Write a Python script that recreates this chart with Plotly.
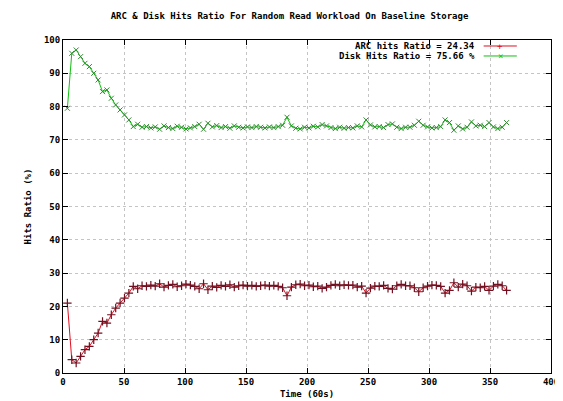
import plotly.graph_objects as go

time_points = [round(3.6 * i, 1) for i in range(1, 102)]

arc_hits = [21, 4, 3, 5, 7, 8, 10, 12, 15.5, 15,
            17.5, 19.5, 21, 22.5, 24, 26, 25.3, 26.2, 26, 26.4,
            26.1, 26.8, 25.8, 26.3, 26.6, 25.9, 26.2, 26.7, 26.4, 26.0,
            25.3, 26.8, 25.0, 26.1, 25.7, 26.3, 26.0, 26.5, 25.8, 26.2,
            26.4, 26.1, 26.3, 26.0, 26.2, 26.4, 26.1, 26.3, 26.0, 25.6,
            23.2, 25.8, 26.5, 26.7, 26.2, 26.4, 25.9, 26.1, 25.4, 25.8,
            26.3, 26.6, 26.2, 26.5, 26.3, 26.4, 25.8, 26.1, 24.0, 25.5,
            26.1, 26.0, 26.3, 25.4, 25.2, 26.2, 26.6, 26.2, 26.2, 25.6,
            24.4, 25.6, 26.1, 26.4, 26.3, 26.0, 24.0, 24.8, 27.1, 25.8,
            26.7, 26.2, 24.6, 25.8, 25.6, 26.0, 24.8, 26.1, 26.6, 26.2,
            24.8]

disk_hits = [79.5, 96, 97, 95, 93, 92, 90, 88, 84.5, 85,
             82.5, 80.5, 79, 77.5, 76, 74, 74.7, 73.8, 74, 73.6,
             73.9, 73.2, 74.2, 73.7, 73.4, 74.1, 73.8, 73.3, 73.6, 74.0,
             74.7, 73.2, 75.0, 73.9, 74.3, 73.7, 74.0, 73.5, 74.2, 73.8,
             73.6, 73.9, 73.7, 74.0, 73.8, 73.6, 73.9, 73.7, 74.0, 74.4,
             76.8, 74.2, 73.5, 73.3, 73.8, 73.6, 74.1, 73.9, 74.6, 74.2,
             73.7, 73.4, 73.8, 73.5, 73.7, 73.6, 74.2, 73.9, 76.0, 74.5,
             73.9, 74.0, 73.7, 74.6, 74.8, 73.8, 73.4, 73.8, 73.8, 74.4,
             75.6, 74.4, 73.9, 73.6, 73.7, 74.0, 76.0, 75.2, 72.9, 74.2,
             73.3, 73.8, 75.4, 74.2, 74.4, 74.0, 75.2, 73.9, 73.4, 73.8,
             75.2]

x_ticks = [0, 50, 100, 150, 200, 250, 300, 350, 400]
y_ticks = [0, 10, 20, 30, 40, 50, 60, 70, 80, 90, 100]

title_text = "ARC & Disk Hits Ratio For Random Read Workload On Baseline Storage"
x_title = "Time (60s)"
y_title = "Hits Ratio (%)"
arc_label = "ARC hits Ratio = 24.34"
disk_label = "Disk Hits Ratio = 75.66 %"

RED = "#e01020"
GREEN = "#10c010"
FONT = "DejaVu Sans Mono"

fig = go.Figure()
fig.add_trace(go.Scatter(
    x=time_points, y=arc_hits, mode="lines+markers", name=arc_label,
    line=dict(color=RED, width=1),
    marker=dict(symbol="cross-thin", size=6, line=dict(color="#701020", width=1.2)),
    showlegend=False))
fig.add_trace(go.Scatter(
    x=time_points, y=disk_hits, mode="lines+markers", name=disk_label,
    line=dict(color=GREEN, width=1),
    marker=dict(symbol="x-thin", size=5, line=dict(color="#308a30", width=1)),
    showlegend=False))

axis_common = dict(
    showline=True, linecolor="black", linewidth=1, mirror="ticks",
    ticks="inside", ticklen=5, tickcolor="black",
    showgrid=True, gridcolor="#c4c4c4", griddash="dot", gridwidth=1,
    zeroline=False,
    tickfont=dict(family=FONT, size=9, color="black", weight="bold"),
)

fig.update_xaxes(range=[0, 400], tickvals=x_ticks,
                 title=dict(text=x_title, font=dict(family=FONT, size=9, color="black", weight="bold"), standoff=4),
                 **axis_common)
fig.update_yaxes(range=[0, 100], tickvals=y_ticks,
                 title=dict(text=y_title, font=dict(family=FONT, size=9, color="black", weight="bold"), standoff=10),
                 **axis_common)

# legend drawn gnuplot-style (text right, sample on the right)
legend_rows = [(arc_label, RED, "+", 0.982), (disk_label, GREEN, "×", 0.952)]
for label, color, sym, yp in legend_rows:
    fig.add_annotation(x=0.848, y=yp, xref="paper", yref="paper", text=label,
                       showarrow=False, xanchor="right", yanchor="middle",
                       font=dict(family=FONT, size=9, color="black", weight="bold"))
    fig.add_shape(type="line", xref="paper", yref="paper", x0=0.862, x1=0.93, y0=yp, y1=yp,
                  line=dict(color=color, width=1))
    fig.add_annotation(x=0.896, y=yp, xref="paper", yref="paper", text=sym,
                       showarrow=False, xanchor="center", yanchor="middle",
                       font=dict(family=FONT, size=9, color=color))

fig.update_layout(
    width=563, height=401,
    margin=dict(l=55, r=17, t=32, b=33),
    paper_bgcolor="white", plot_bgcolor="white",
    title=dict(text=title_text, x=0.5, xanchor="center", y=0.98, yanchor="middle",
               font=dict(family=FONT, size=9, color="black", weight="bold")),
)

fig.write_html("out.html")
